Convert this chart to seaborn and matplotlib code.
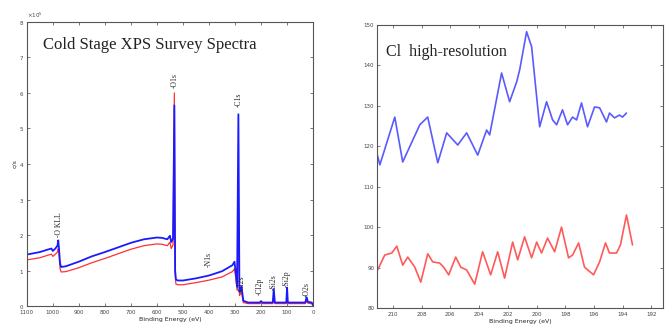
import numpy as np
import pandas as pd
import matplotlib
matplotlib.use("Agg")
import matplotlib.pyplot as plt
import seaborn as sns

# Survey spectra (binding energy in eV, counts/s in units of 1e5)
survey_energy = [1100, 1050, 1015, 1005, 1000, 990, 982, 979, 976, 972, 968, 950,
                 900, 850, 800, 750, 700, 650, 600, 580, 560, 550, 545, 538,
                 533, 530, 527, 520, 500, 450, 400, 350, 310, 302, 298, 292,
                 287, 283, 280, 275, 268, 250, 205, 200, 195, 155, 151, 147,
                 103, 100, 97, 30, 25, 20, 5, 0]
survey_blue = [1.45, 1.52, 1.60, 1.62, 1.55, 1.62, 1.70, 1.85, 1.60, 1.20, 1.10, 1.12,
               1.25, 1.40, 1.52, 1.65, 1.78, 1.88, 1.93, 1.92, 1.88, 1.98, 1.80, 1.90,
               5.65, 1.00, 0.75, 0.72, 0.72, 0.78, 0.86, 0.98, 1.15, 1.25, 1.00, 0.55,
               5.40, 0.40, 0.45, 0.55, 0.15, 0.10, 0.10, 0.14, 0.10, 0.10, 0.48, 0.10,
               0.10, 0.52, 0.10, 0.10, 0.25, 0.12, 0.10, 0.02]
survey_red = [1.30, 1.36, 1.44, 1.46, 1.40, 1.46, 1.52, 1.62, 1.45, 1.05, 0.96, 0.97,
              1.08, 1.22, 1.34, 1.47, 1.60, 1.70, 1.75, 1.74, 1.70, 1.80, 1.62, 1.72,
              6.00, 0.90, 0.62, 0.60, 0.60, 0.66, 0.73, 0.82, 0.97, 1.05, 0.85, 0.45,
              2.90, 0.30, 0.33, 0.40, 0.10, 0.07, 0.07, 0.09, 0.07, 0.07, 0.20, 0.07,
              0.07, 0.22, 0.07, 0.07, 0.14, 0.08, 0.07, 0.02]

peak_labels = ["-O KLL", "-O1s", "-C1s", "-N1s", "-Cl2s", "-Cl2p", "-Si2s", "-Si2p", "-O2s"]
peak_energy = [978, 532, 285, 400, 274, 205, 151, 100, 23]
peak_label_y = [1.95, 6.15, 5.6, 1.1, 0.4, 0.3, 0.45, 0.53, 0.25]

# Cl high-resolution scans
cl_blue_energy = [211.11, 210.90, 209.86, 209.31, 208.12, 207.57, 206.87, 206.25, 205.48,
                  204.86, 204.09, 203.47, 203.26, 202.43, 201.87, 201.38, 201.17, 200.69,
                  200.34, 199.78, 199.30, 198.88, 198.60, 198.19, 197.84, 197.49, 197.21,
                  196.87, 196.45, 195.96, 195.61, 195.13, 194.92, 194.57, 194.23, 194.02,
                  193.74]
cl_blue = [118.3, 115.4, 127.2, 116.1, 125.3, 127.2, 115.9, 123.3, 120.3,
           123.3, 117.8, 124.0, 122.8, 138.1, 131.0, 135.9, 138.9, 148.3,
           144.6, 124.8, 131.0, 126.5, 125.3, 129.0, 125.3, 127.2, 126.5,
           130.7, 124.8, 129.7, 129.5, 126.0, 128.2, 127.0, 127.7, 127.2,
           128.2]
cl_red_energy = [211.11, 210.56, 210.07, 209.72, 209.31, 208.96, 208.47, 208.05, 207.57,
                 207.22, 206.73, 206.46, 206.11, 205.62, 205.27, 204.86, 204.30, 203.75,
                 203.19, 202.70, 202.22, 201.66, 201.31, 200.83, 200.34, 199.99, 199.65,
                 199.23, 198.74, 198.26, 197.77, 197.49, 197.07, 196.66, 196.03, 195.61,
                 195.20, 194.92, 194.43, 194.16, 193.74, 193.32]
cl_red = [89.0, 93.1, 93.6, 95.3, 90.6, 92.6, 90.1, 86.4, 93.4,
          91.4, 91.1, 90.1, 88.2, 92.6, 90.1, 89.4, 85.9, 93.9,
          88.2, 93.9, 87.4, 96.3, 91.9, 97.6, 92.4, 96.3, 93.6,
          97.3, 93.9, 100.0, 92.4, 93.1, 96.1, 90.1, 88.2, 91.4,
          96.1, 93.6, 93.6, 95.6, 103.0, 95.6]

sns.set_style("white")
plt.rcParams['font.family'] = ['DejaVu Sans']

fig = plt.figure(figsize=(6.69, 3.27), dpi=100)
ax1 = fig.add_axes([0.040, 0.064, 0.428, 0.869])
ax2 = fig.add_axes([0.5635, 0.058, 0.4275, 0.866])

surv = pd.DataFrame({"E": survey_energy,
                     "red": np.array(survey_red) * 1e5,
                     "blue": np.array(survey_blue) * 1e5})
sns.lineplot(data=surv, x="E", y="red", ax=ax1, color="#ff3030", lw=0.9,
             sort=False, estimator=None)
sns.lineplot(data=surv, x="E", y="blue", ax=ax1, color="#1a1aff", lw=1.3,
             sort=False, estimator=None)
ax1.set_xlim(1100, 0)
ax1.set_ylim(0, 8e5)
ax1.set_xticks(range(1100, -1, -100))
ax1.set_yticks(np.arange(0, 8.1e5, 1e5))
ax1.ticklabel_format(axis="y", style="sci", scilimits=(0, 0), useMathText=True)
ax1.yaxis.get_offset_text().set_fontsize(4)
ax1.set_xlabel("Binding Energy (eV)", fontsize=4.5, labelpad=1)
ax1.set_ylabel("c/s", fontsize=4.5, labelpad=1)
for lab, e, yv in zip(peak_labels, peak_energy, peak_label_y):
    ax1.text(e, yv * 1e5, lab, rotation=90, ha="center", va="bottom",
             fontsize=5.5, family="Liberation Serif")
ax1.text(0.055, 0.92, "Cold Stage XPS Survey Spectra", transform=ax1.transAxes,
         fontsize=12, family="Liberation Serif", va="center", color="#222222")

cl = pd.concat([
    pd.DataFrame({"E": cl_blue_energy, "I": cl_blue, "s": "blue"}),
    pd.DataFrame({"E": cl_red_energy, "I": cl_red, "s": "red"}),
])
sns.lineplot(data=cl, x="E", y="I", hue="s", palette={"blue": "#5a5aff", "red": "#ff5a5a"},
             ax=ax2, lw=1.2, sort=False, estimator=None, legend=False)
ax2.set_xlim(211.1, 191.2)
ax2.set_ylim(80, 150)
ax2.set_xticks(range(210, 191, -2))
ax2.set_yticks(range(80, 151, 10))
ax2.set_xlabel("Binding Energy (eV)", fontsize=4.5, labelpad=1)
ax2.set_ylabel("")
ax2.text(0.03, 0.905, "Cl  high-resolution", transform=ax2.transAxes,
         fontsize=11.5, family="Liberation Serif", va="center", color="#222222")

for ax in (ax1, ax2):
    ax.tick_params(direction="in", length=2, width=0.5, labelsize=4, pad=2,
                   top=True, right=True, bottom=True, left=True, colors="#444444")
    ax.tick_params(axis="x", pad=3)
    for sp in ax.spines.values():
        sp.set_color("#555555")
        sp.set_linewidth(0.8)

fig.savefig("out.png", dpi=100)
